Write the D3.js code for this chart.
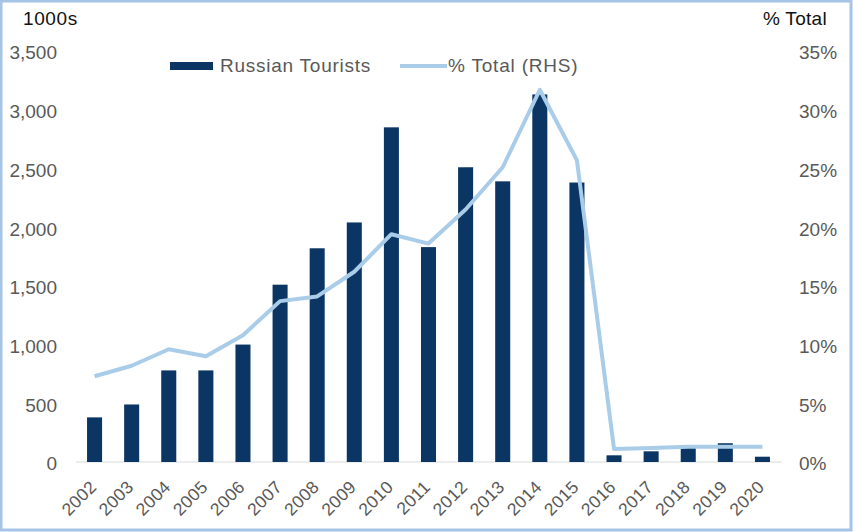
<!DOCTYPE html>
<html>
<head>
<meta charset="utf-8">
<script src="https://cdn.jsdelivr.net/npm/d3@7"></script>
<style>
  html, body { margin: 0; padding: 0; background: #fff; }
  svg { display: block; font-family: "Liberation Sans", Arial, sans-serif; }
</style>
</head>
<body>
<svg id="chart" width="853" height="532"></svg>
<script>
const years = ["2002","2003","2004","2005","2006","2007","2008","2009","2010","2011","2012","2013","2014","2015","2016","2017","2018","2019","2020"];
const tourists = [380, 490, 780, 780, 1000, 1510, 1820, 2040, 2850, 1830, 2510, 2390, 3130, 2380, 57, 91, 120, 160, 45];
const pctTotal = [0.073, 0.082, 0.096, 0.090, 0.108, 0.137, 0.141, 0.162, 0.194, 0.186, 0.215, 0.251, 0.317, 0.257, 0.011, 0.012, 0.013, 0.013, 0.013];
const leftTicks = [0, 500, 1000, 1500, 2000, 2500, 3000, 3500];
const rightTicks = [0, 0.05, 0.10, 0.15, 0.20, 0.25, 0.30, 0.35];
const legendItems = ["Russian Tourists", "% Total (RHS)"];
const leftTitle = "1000s";
const rightTitle = "% Total";

const barColor = "#0b3562";
const lineColor = "#a9cde9";
const labelColor = "#595959";

const svg = d3.select("#chart");

// border
svg.append("rect").attr("x", 1).attr("y", 1).attr("width", 850).attr("height", 529)
  .attr("fill", "none").attr("stroke", "#a6c4e6").attr("stroke-width", 3);

const x = d3.scaleBand().domain(years).range([76, 781]).paddingInner(0.595).paddingOuter(0.2975);
const yL = d3.scaleLinear().domain([0, 3500]).range([462, 51]);
const yR = d3.scaleLinear().domain([0, 0.35]).range([462, 51]);

// baseline
svg.append("line").attr("x1", 76).attr("x2", 782).attr("y1", yL(0)).attr("y2", yL(0))
  .attr("stroke", "#d9d9d9").attr("stroke-width", 1);

// bars
svg.append("g").selectAll("rect").data(years).join("rect")
  .attr("x", d => x(d))
  .attr("width", x.bandwidth())
  .attr("y", (d, i) => yL(tourists[i]))
  .attr("height", (d, i) => yL(0) - yL(tourists[i]))
  .attr("fill", barColor);

// line
const line = d3.line()
  .x((d, i) => x(years[i]) + x.bandwidth() / 2)
  .y(d => yR(d));
svg.append("path").datum(pctTotal).attr("d", line)
  .attr("fill", "none").attr("stroke", lineColor).attr("stroke-width", 4)
  .attr("stroke-linejoin", "round");

// left axis
const axL = svg.append("g").attr("transform", "translate(62,0)")
  .call(d3.axisLeft(yL).tickValues(leftTicks).tickFormat(d3.format(",")).tickSize(0).tickPadding(5));
axL.select(".domain").remove();
axL.selectAll("text").attr("font-size", 19).attr("fill", labelColor)
  .attr("font-family", "Liberation Sans, Arial, sans-serif").attr("dy", "0.42em");

// right axis
const axR = svg.append("g").attr("transform", "translate(794,0)")
  .call(d3.axisRight(yR).tickValues(rightTicks).tickFormat(d3.format(".0%")).tickSize(0).tickPadding(5));
axR.select(".domain").remove();
axR.selectAll("text").attr("font-size", 19).attr("fill", labelColor)
  .attr("font-family", "Liberation Sans, Arial, sans-serif").attr("dy", "0.42em");

// x labels
svg.append("g").selectAll("text").data(years).join("text")
  .attr("transform", d => `translate(${x(d) + x.bandwidth() / 2 + 3},488) rotate(-45)`)
  .attr("text-anchor", "end")
  .attr("font-size", 17.5)
  .attr("letter-spacing", 0.4)
  .attr("fill", labelColor)
  .text(d => d);

// axis titles
svg.append("text").attr("x", 23).attr("y", 25).attr("font-size", 19).attr("letter-spacing", 0.6).attr("fill", "#111").text(leftTitle);
svg.append("text").attr("x", 827).attr("y", 25).attr("text-anchor", "end").attr("font-size", 19).attr("letter-spacing", 0.3).attr("fill", "#111").text(rightTitle);

// legend
const lg = svg.append("g");
lg.append("rect").attr("x", 170).attr("y", 62).attr("width", 43).attr("height", 8).attr("fill", barColor);
lg.append("text").attr("x", 220).attr("y", 72).attr("font-size", 19).attr("letter-spacing", 0.75).attr("fill", labelColor).text(legendItems[0]);
lg.append("line").attr("x1", 400).attr("x2", 447).attr("y1", 66).attr("y2", 66)
  .attr("stroke", lineColor).attr("stroke-width", 4);
lg.append("text").attr("x", 448).attr("y", 72).attr("font-size", 19).attr("letter-spacing", 0.8).attr("fill", labelColor).text(legendItems[1]);
</script>
</body>
</html>
